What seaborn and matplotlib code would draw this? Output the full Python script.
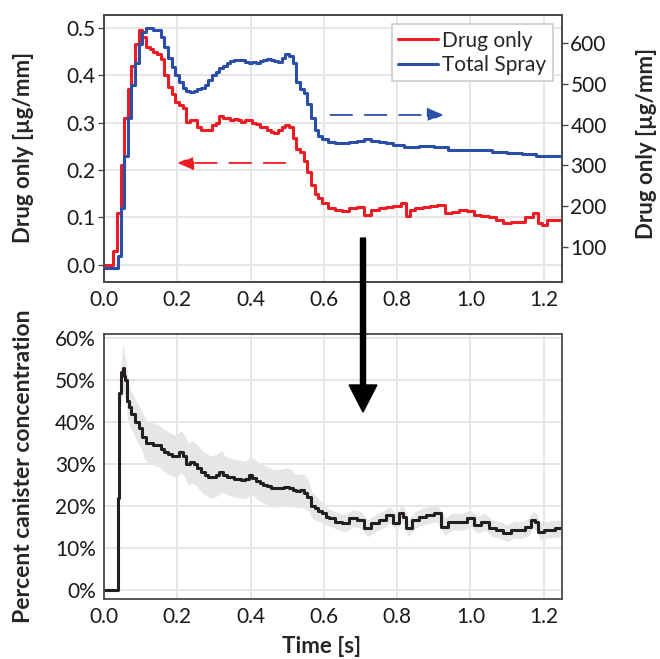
import numpy as np
import pandas as pd
import matplotlib
matplotlib.use("Agg")
import matplotlib.pyplot as plt
import matplotlib.patches as mpatches
import seaborn as sns

sns.set_style("whitegrid")
plt.rcParams['font.family'] = ['Lato', 'DejaVu Sans']

# ---- top panel data ----
# Drug only [ug/mm], left axis
red_t = [0.00, 0.02, 0.03, 0.04, 0.05, 0.06, 0.07, 0.08, 0.09, 0.10,
         0.11, 0.12, 0.13, 0.14, 0.15, 0.16, 0.17, 0.18, 0.19, 0.20,
         0.21, 0.22, 0.23, 0.24, 0.25, 0.26, 0.27, 0.28, 0.29, 0.30,
         0.31, 0.32, 0.33, 0.34, 0.35, 0.36, 0.37, 0.38, 0.39, 0.40,
         0.41, 0.42, 0.43, 0.44, 0.45, 0.46, 0.47, 0.48, 0.49, 0.50,
         0.51, 0.52, 0.53, 0.54, 0.55, 0.56, 0.57, 0.58, 0.59, 0.60,
         0.62, 0.64, 0.66, 0.68, 0.70, 0.72, 0.74, 0.76, 0.78, 0.80,
         0.82, 0.83, 0.84, 0.86, 0.88, 0.90, 0.92, 0.94, 0.96, 0.98,
         1.00, 1.02, 1.04, 1.06, 1.08, 1.10, 1.12, 1.14, 1.16, 1.18,
         1.19, 1.20, 1.22, 1.25]
red_v = [0.000, 0.000, 0.030, 0.110, 0.210, 0.310, 0.370, 0.420, 0.465, 0.495,
         0.480, 0.460, 0.455, 0.450, 0.445, 0.435, 0.400, 0.375, 0.360, 0.344,
         0.338, 0.330, 0.302, 0.305, 0.305, 0.290, 0.285, 0.285, 0.285, 0.295,
         0.300, 0.315, 0.310, 0.310, 0.305, 0.307, 0.305, 0.302, 0.305, 0.305,
         0.300, 0.297, 0.290, 0.290, 0.285, 0.280, 0.278, 0.285, 0.290, 0.295,
         0.290, 0.267, 0.245, 0.239, 0.220, 0.195, 0.169, 0.150, 0.141, 0.130,
         0.120, 0.115, 0.113, 0.120, 0.123, 0.106, 0.115, 0.120, 0.123, 0.125,
         0.130, 0.104, 0.115, 0.120, 0.123, 0.125, 0.127, 0.109, 0.112, 0.116,
         0.113, 0.106, 0.104, 0.102, 0.095, 0.088, 0.090, 0.091, 0.100, 0.109,
         0.088, 0.085, 0.095, 0.095]

# Total Spray [ug/mm], right axis
blue_t = [0.00, 0.035, 0.04, 0.05, 0.06, 0.07, 0.08, 0.09, 0.10, 0.11,
          0.12, 0.13, 0.14, 0.15, 0.16, 0.17, 0.18, 0.19, 0.20, 0.21,
          0.22, 0.23, 0.24, 0.25, 0.26, 0.27, 0.28, 0.29, 0.30, 0.31,
          0.32, 0.33, 0.34, 0.35, 0.36, 0.37, 0.38, 0.39, 0.40, 0.41,
          0.42, 0.43, 0.44, 0.45, 0.46, 0.47, 0.48, 0.49, 0.50, 0.51,
          0.52, 0.53, 0.54, 0.55, 0.56, 0.57, 0.58, 0.59, 0.60, 0.62,
          0.64, 0.66, 0.68, 0.70, 0.72, 0.74, 0.76, 0.78, 0.80, 0.84,
          0.88, 0.92, 0.96, 1.00, 1.04, 1.08, 1.12, 1.16, 1.20, 1.25]
blue_v = [48, 48, 78, 195, 323, 416, 498, 551, 598, 627,
          638, 638, 633, 633, 615, 592, 564, 543, 522, 504,
          490, 482, 481, 484, 489, 491, 498, 510, 522, 531,
          539, 545, 551, 557, 559, 560, 560, 554, 551, 554,
          552, 557, 559, 562, 559, 557, 554, 564, 575, 568,
          551, 504, 489, 477, 452, 416, 387, 372, 364, 358,
          356, 355, 358, 360, 364, 360, 358, 355, 350, 346,
          348, 344, 338, 338, 337, 332, 330, 327, 322, 322]

# ---- bottom panel data ----
pct_t = [0.000, 0.036, 0.039, 0.044, 0.050, 0.053, 0.056, 0.060, 0.065, 0.07, 0.08,
         0.09, 0.10, 0.11, 0.12, 0.13, 0.14, 0.15, 0.16, 0.17, 0.18,
         0.19, 0.20, 0.21, 0.22, 0.23, 0.24, 0.25, 0.26, 0.27, 0.28,
         0.29, 0.30, 0.31, 0.32, 0.33, 0.34, 0.35, 0.36, 0.37, 0.38,
         0.39, 0.40, 0.41, 0.42, 0.43, 0.44, 0.45, 0.46, 0.48, 0.50,
         0.51, 0.52, 0.53, 0.54, 0.55, 0.56, 0.57, 0.58, 0.59, 0.60,
         0.61, 0.62, 0.64, 0.66, 0.68, 0.70, 0.72, 0.74, 0.76, 0.78,
         0.80, 0.81, 0.82, 0.83, 0.85, 0.87, 0.89, 0.91, 0.93, 0.95,
         0.98, 1.00, 1.02, 1.04, 1.06, 1.08, 1.10, 1.12, 1.14, 1.16,
         1.17, 1.18, 1.19, 1.21, 1.25]
pct_v = [0.0, 0.0, 22.0, 47.0, 52.0, 53.0, 51.0, 50.0, 45.0, 43.5, 42.0,
         40.0, 38.5, 36.5, 35.0, 35.0, 34.5, 34.5, 33.5, 33.0, 32.5,
         32.0, 32.0, 33.0, 32.0, 30.0, 30.5, 30.0, 29.0, 28.0, 27.5,
         27.0, 27.0, 27.5, 28.2, 27.5, 27.0, 26.9, 26.5, 26.5, 26.2,
         26.5, 27.4, 26.8, 26.0, 25.4, 25.0, 24.8, 24.2, 24.3, 24.6,
         24.3, 23.8, 23.5, 23.8, 23.2, 22.2, 19.9, 19.5, 18.8, 18.3,
         17.5, 17.1, 16.3, 15.9, 17.1, 16.7, 14.7, 15.9, 16.7, 17.9,
         15.9, 18.3, 17.5, 14.7, 16.7, 17.5, 17.9, 18.3, 15.1, 16.3,
         16.3, 17.1, 15.5, 16.3, 14.7, 14.3, 13.5, 14.4, 14.3, 15.1,
         16.7, 16.3, 13.9, 14.4, 14.7]
pct_sd = [0.0, 0.0, 2.0, 4.0, 5.5, 5.5, 5.0, 5.0, 5.0, 4.5, 4.5,
          4.5, 4.5, 5.0, 5.0, 5.0, 5.0, 5.0, 5.0, 5.0, 5.0,
          5.0, 5.0, 5.0, 5.0, 5.0, 5.0, 5.0, 5.0, 5.0, 5.0,
          5.0, 5.0, 5.0, 5.0, 4.5, 4.5, 4.5, 4.5, 4.5, 4.5,
          4.5, 4.5, 4.5, 4.5, 4.5, 4.5, 4.5, 4.5, 4.5, 4.5,
          4.5, 4.0, 4.0, 4.0, 4.0, 3.5, 3.0, 3.0, 2.5, 2.5,
          2.0, 2.0, 2.0, 2.0, 2.0, 2.0, 2.0, 2.0, 2.0, 2.0,
          2.0, 2.0, 2.0, 2.0, 2.0, 2.0, 2.0, 2.0, 2.0, 2.0,
          2.0, 2.0, 2.0, 2.0, 2.0, 2.0, 2.0, 2.0, 2.0, 2.0,
          2.0, 2.0, 2.0, 2.0, 2.0]

x_ticks = [0.0, 0.2, 0.4, 0.6, 0.8, 1.0, 1.2]
left_ticks = [0.0, 0.1, 0.2, 0.3, 0.4, 0.5]
right_ticks = [100, 200, 300, 400, 500, 600]
pct_ticks = [0, 10, 20, 30, 40, 50, 60]

RED = "#ec1c24"
BLUE = "#2b4fa8"
BLACK = "#231f20"
SPINE = "#4a4a4a"
GRID = "#e6e6e6"
FS = 15

fig = plt.figure(figsize=(6.6, 6.59), dpi=100)
ax = fig.add_axes([0.1576, 0.5721, 0.6939, 0.4051])
ax_b = fig.add_axes([0.1576, 0.0910, 0.6939, 0.4022])


def style_axes(a, grid=True):
    for s in a.spines.values():
        s.set_color(SPINE)
        s.set_linewidth(1.3)
        s.set_visible(True)
    a.tick_params(direction="out", length=4, width=1, color=SPINE,
                  labelsize=FS, labelcolor="#1a1a1a", pad=2)
    if grid:
        a.grid(True, color=GRID, linewidth=1.4)
    else:
        a.grid(False)


red_df = pd.DataFrame({"t": red_t, "v": red_v})
blue_df = pd.DataFrame({"t": blue_t, "v": blue_v})
pct_df = pd.DataFrame({"t": pct_t, "v": pct_v, "sd": pct_sd})

sns.lineplot(data=red_df, x="t", y="v", ax=ax, color=RED, lw=2.2,
             drawstyle="steps-mid", label="Drug only", legend=False)
ax2 = ax.twinx()
sns.lineplot(data=blue_df, x="t", y="v", ax=ax2, color=BLUE, lw=2.2,
             drawstyle="steps-mid", label="Total Spray", legend=False)

ax.set_xlim(0, 1.25)
ax.set_ylim(-0.036, 0.527)
ax2.set_ylim(13, 670)
ax.set_xticks(x_ticks)
ax.set_xticklabels([f"{v:.1f}" for v in x_ticks])
ax.set_yticks(left_ticks)
ax.set_yticklabels([f"{v:.1f}" for v in left_ticks])
ax2.set_yticks(right_ticks)
ax2.set_yticklabels([str(v) for v in right_ticks])
style_axes(ax)
style_axes(ax2, grid=False)
ax.set_xlabel("")
ax.set_ylabel("Drug only [µg/mm]", fontsize=16, fontweight="bold")
ax2.set_ylabel("Drug only [µg/mm]", fontsize=16, fontweight="bold")
ax.yaxis.set_label_coords(-0.153, 0.505)
ax2.yaxis.set_label_coords(1.162, 0.52)

# dashed pointer arrows
ax.annotate("", xy=(0.2, 0.215), xytext=(0.495, 0.215),
            arrowprops=dict(arrowstyle="-|>,head_length=0.7,head_width=0.3",
                            color=RED, lw=1.3, linestyle=(0, (12, 7)),
                            mutation_scale=14, shrinkA=0, shrinkB=0))
ax2.annotate("", xy=(0.927, 424), xytext=(0.618, 424),
             arrowprops=dict(arrowstyle="-|>,head_length=0.7,head_width=0.3",
                             color=BLUE, lw=1.3, linestyle=(0, (12, 7)),
                             mutation_scale=14, shrinkA=0, shrinkB=0))

h1, l1 = ax.get_legend_handles_labels()
h2, l2 = ax2.get_legend_handles_labels()
leg = ax2.legend(h1 + h2, l1 + l2, loc="upper right", fontsize=FS,
                 frameon=True, fancybox=False, edgecolor="#cccccc",
                 framealpha=1, borderpad=0.3, labelspacing=0.22,
                 handlelength=1.9, handletextpad=0.2, borderaxespad=0.45)
leg.get_frame().set_linewidth(1.2)

# bottom panel
ax_b.fill_between(pct_df["t"], pct_df["v"] - pct_df["sd"], pct_df["v"] + pct_df["sd"],
                  color="#e6e6e6", lw=0)
sns.lineplot(data=pct_df, x="t", y="v", ax=ax_b, color=BLACK, lw=2.2,
             drawstyle="steps-mid")
ax_b.set_xlim(0, 1.25)
ax_b.set_ylim(-2.15, 61)
ax_b.set_xticks(x_ticks)
ax_b.set_xticklabels([f"{v:.1f}" for v in x_ticks])
ax_b.set_yticks(pct_ticks)
ax_b.set_yticklabels([f"{v}%" for v in pct_ticks])
style_axes(ax_b)
ax_b.set_xlabel("Time [s]", fontsize=16, fontweight="bold")
ax_b.set_ylabel("Percent canister concentration", fontsize=16.5, fontweight="bold")
ax_b.yaxis.set_label_coords(-0.153, 0.50)
ax_b.xaxis.set_label_coords(0.476, -0.140)

# big black arrow linking the panels
fig.patches.append(mpatches.FancyArrow(
    0.55, 0.6388, 0, -0.2640, width=0.0076, head_width=0.042,
    head_length=0.041, length_includes_head=True, color="black",
    transform=fig.transFigure, figure=fig))

fig.savefig("out.png", dpi=100)
